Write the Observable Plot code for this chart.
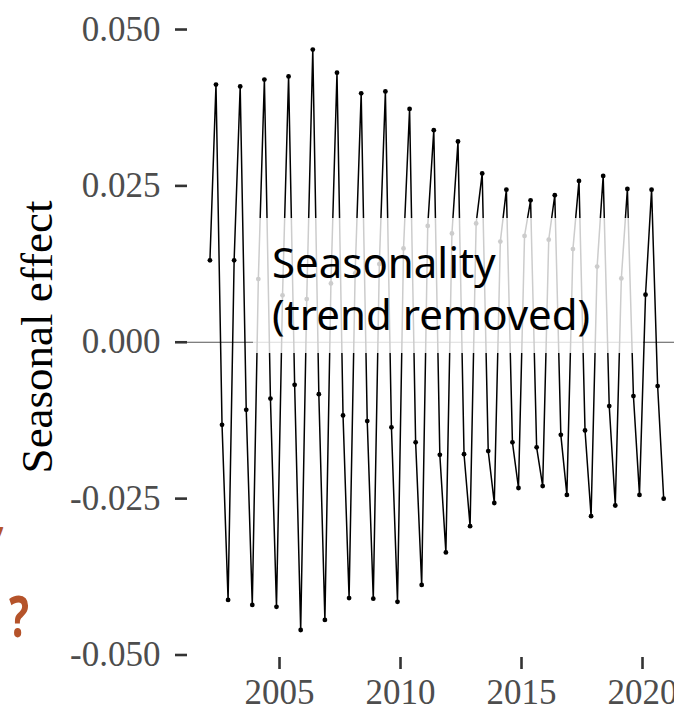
<!DOCTYPE html>
<html>
<head>
<meta charset="utf-8">
<script src="https://cdn.jsdelivr.net/npm/d3@7"></script>
<script src="https://cdn.jsdelivr.net/npm/@observablehq/plot@0.6"></script>
<style>
  body { margin: 0; background: #fff; }
  #wrap { position: relative; width: 674px; height: 709px; overflow: hidden; background: #fff; }
  #box { position: absolute; left: 253px; top: 218px; width: 390px; height: 135px; background: rgba(255,255,255,0.8); }
  #boxtext { position: absolute; left: 272px; top: 236px; font-family: "Noto Sans", sans-serif; font-size: 42px; line-height: 52px; color: #000; white-space: nowrap; }
  .q { position: absolute; color: #b5532a; font-family: "Noto Sans", sans-serif; font-weight: bold; line-height: 1; }
</style>
</head>
<body>
<div id="wrap">
  <div id="chart"></div>
  <div id="box"></div>
  <div id="boxtext">Seasonality<br>(trend removed)</div>
  <div class="q" id="q1" style="left:-5px;top:520px;font-size:40px;">’</div>
  <div class="q" id="q2" style="left:9px;top:586px;font-size:58px;transform:scaleX(0.72);transform-origin:left top;">?</div>
</div>
<script>
// Quarterly seasonal effect, one value per quarter for each year
const years = [2002, 2003, 2004, 2005, 2006, 2007, 2008, 2009, 2010, 2011, 2012, 2013, 2014, 2015, 2016, 2017, 2018, 2019, 2020];
const quarterPos = [0.125, 0.375, 0.625, 0.875];
const q1 = [0.0131, 0.0131, 0.0101, 0.0075, 0.0069, 0.0094, 0.0110, 0.0125, 0.0150, 0.0186, 0.0174, 0.0190, 0.0161, 0.0170, 0.0164, 0.0149, 0.0121, 0.0102, 0.0076];
const q2 = [0.0412, 0.0409, 0.0420, 0.0425, 0.0468, 0.0431, 0.0398, 0.0401, 0.0373, 0.0339, 0.0321, 0.0270, 0.0244, 0.0227, 0.0235, 0.0258, 0.0266, 0.0245, 0.0244];
const q3 = [-0.0132, -0.0108, -0.0090, -0.0068, -0.0083, -0.0117, -0.0126, -0.0136, -0.0160, -0.0180, -0.0179, -0.0174, -0.0160, -0.0168, -0.0148, -0.0141, -0.0102, -0.0086, -0.0070];
const q4 = [-0.0412, -0.0420, -0.0423, -0.0460, -0.0444, -0.0409, -0.0410, -0.0415, -0.0388, -0.0336, -0.0294, -0.0257, -0.0233, -0.0230, -0.0244, -0.0278, -0.0261, -0.0244, -0.0250];
const xTicks = [2005, 2010, 2015, 2020];
const yTicks = [-0.05, -0.025, 0, 0.025, 0.05];
const yLabel = "Seasonal effect";

const data = years.flatMap((yr, i) =>
  [q1[i], q2[i], q3[i], q4[i]].map((v, j) => ({t: yr + quarterPos[j], v}))
);

const chart = Plot.plot({
  width: 674,
  height: 709,
  marginLeft: 187,
  marginRight: 0,
  marginTop: 0,
  marginBottom: 52,
  style: {fontFamily: "'Liberation Serif', serif", fontSize: "35px", background: "transparent", overflow: "visible"},
  x: {domain: [2001.198, 2021.322]},
  y: {domain: [-0.0504, 0.05464]},
  marks: [
    Plot.ruleY([0], {stroke: "#555", strokeWidth: 1}),
    Plot.line(data, {x: "t", y: "v", stroke: "black", strokeWidth: 1.5}),
    Plot.dot(data, {x: "t", y: "v", r: 2.4, fill: "black", stroke: "none"}),
    Plot.axisX({ticks: xTicks, tickFormat: d => String(d), tickSize: 12, tickPadding: 10, stroke: "#333", strokeWidth: 2.6, fill: "#4d4d4d", fontSize: 35, label: null}),
    Plot.axisY({ticks: yTicks, tickFormat: d => d.toFixed(3), tickSize: 12, tickPadding: 15, stroke: "#333", strokeWidth: 2.6, fill: "#4d4d4d", fontSize: 35, label: null})
  ]
});

d3.select(chart).append("text")
  .attr("transform", "translate(52,337) rotate(-90)")
  .attr("text-anchor", "middle")
  .style("font-family", "'Liberation Serif', serif")
  .style("font-size", "45px")
  .attr("fill", "black")
  .text(yLabel);

document.getElementById("chart").appendChild(chart);
</script>
</body>
</html>
